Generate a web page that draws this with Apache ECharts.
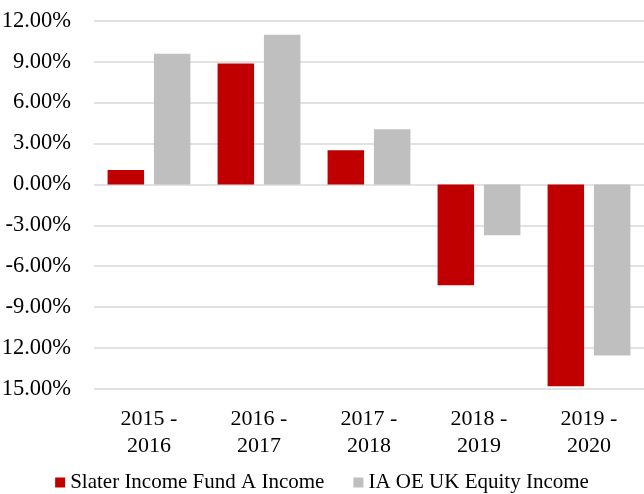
<!DOCTYPE html>
<html>
<head>
<meta charset="utf-8">
<script src="https://cdn.jsdelivr.net/npm/echarts@6/dist/echarts.min.js"></script>
<style>
html,body{margin:0;padding:0;background:#fff;}
#chart{width:644px;height:494px;}
</style>
</head>
<body>
<div id="chart"></div>
<script>
const categories = ['2015 - 2016', '2016 - 2017', '2017 - 2018', '2018 - 2019', '2019 - 2020'];
const seriesNames = ['Slater Income Fund A Income', 'IA OE UK Equity Income'];
const slaterValues = [1.05, 8.87, 2.50, -7.39, -14.80];
const sectorValues = [9.58, 10.97, 4.04, -3.72, -12.55];
const yMin = -15, yMax = 12, yStep = 3;

const FONT = '"Liberation Serif", "Times New Roman", serif';
const chart = echarts.init(document.getElementById('chart'), null, {renderer: 'canvas'});
chart.setOption({
  animation: false,
  backgroundColor: '#ffffff',
  textStyle: {fontFamily: FONT, color: '#000'},
  grid: {left: 94, right: 0, top: 20.7, bottom: 105, containLabel: false, outerBoundsMode: 'none'},
  legend: {
    data: seriesNames,
    left: 'center',
    top: 467,
    icon: 'rect',
    itemWidth: 10,
    itemHeight: 10,
    itemGap: 29,
    textStyle: {fontFamily: FONT, fontSize: 21, color: '#000', padding: [0, 0, 0, 0]}
  },
  xAxis: {
    type: 'category',
    data: categories,
    position: 'bottom',
    axisLine: {show: false, onZero: false},
    axisTick: {show: false},
    axisLabel: {
      fontFamily: FONT, fontSize: 22, color: '#000', margin: 17, lineHeight: 27,
      interval: 0,
      formatter: v => v.replace(' - ', ' -\n')
    },
    splitLine: {show: false}
  },
  yAxis: {
    type: 'value',
    min: yMin, max: yMax, interval: yStep,
    axisLine: {show: false},
    axisTick: {show: false},
    axisLabel: {
      fontFamily: FONT, fontSize: 22.5, color: '#000', margin: 23,
      // the widest negative labels run off the left edge in the original, so their sign is cut off
      formatter: v => v <= -10 ? '{cut|-}' + Math.abs(v).toFixed(2) + '%' : v.toFixed(2) + '%',
      rich: {cut: {color: 'rgba(0,0,0,0)', fontFamily: FONT, fontSize: 22.5}}
    },
    splitLine: {show: true, lineStyle: {color: '#d9d9d9', width: 1.5}}
  },
  series: [
    {name: seriesNames[0], type: 'bar', data: slaterValues, barWidth: 36.5, barGap: '27%',
     itemStyle: {color: '#C00000'}},
    {name: seriesNames[1], type: 'bar', data: sectorValues, barWidth: 36.5, barGap: '27%',
     itemStyle: {color: '#BFBFBF'}}
  ]
});
</script>
</body>
</html>
